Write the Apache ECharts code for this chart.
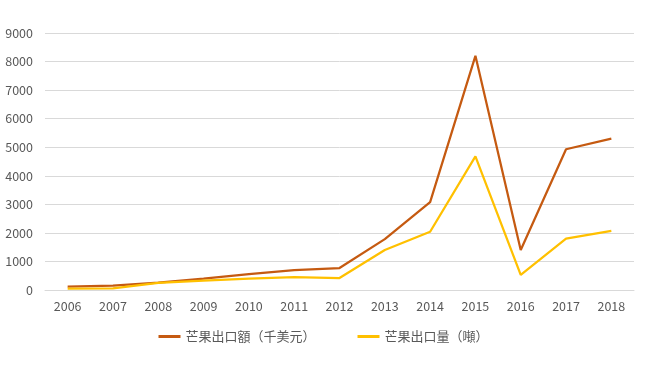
<!DOCTYPE html>
<html><head><meta charset="utf-8">
<script src="https://cdn.jsdelivr.net/npm/echarts@6/dist/echarts.min.js"></script>
<style>html,body{margin:0;padding:0;background:#fff}#c{width:647px;height:375px}</style>
</head><body><div id="c"></div>
<script>
const years = ['2006','2007','2008','2009','2010','2011','2012','2013','2014','2015','2016','2017','2018'];
const exportValue = [120, 150, 260, 400, 560, 700, 770, 1780, 3080, 8200, 1400, 4930, 5300];
const exportVolume = [50, 60, 250, 330, 400, 450, 420, 1400, 2040, 4680, 530, 1800, 2070];
const seriesNames = ['芒果出口額（千美元）', '芒果出口量（噸）'];
const font = '"Noto Sans CJK TC", "Noto Sans", sans-serif';
const chart = echarts.init(document.getElementById('c'));
chart.setOption({
  animation: false,
  textStyle: { fontFamily: font },
  grid: { left: 45, right: 13, top: 33, bottom: 85 },
  legend: {
    bottom: 27, left: 'center', itemWidth: 22, itemHeight: 3, itemGap: 42,
    icon: 'rect',
    textStyle: { color: '#595959', fontSize: 13, fontFamily: font },
    data: seriesNames
  },
  xAxis: {
    type: 'category', data: years, boundaryGap: true,
    axisLine: { lineStyle: { color: '#d9d9d9' } },
    axisTick: { show: false },
    axisLabel: { color: '#595959', fontSize: 12.5, margin: 10, fontFamily: font }
  },
  yAxis: {
    type: 'value', min: 0, max: 9000, interval: 1000,
    axisLine: { show: false }, axisTick: { show: false },
    splitLine: { lineStyle: { color: '#d9d9d9' } },
    axisLabel: { color: '#595959', fontSize: 12.5, margin: 12, fontFamily: font,
      formatter: v => String(v) }
  },
  series: [
    { name: seriesNames[0], type: 'line', data: exportValue, symbol: 'none',
      lineStyle: { color: '#C55A11', width: 2.25 }, itemStyle: { color: '#C55A11' } },
    { name: seriesNames[1], type: 'line', data: exportVolume, symbol: 'none',
      lineStyle: { color: '#FFC000', width: 2.25 }, itemStyle: { color: '#FFC000' } }
  ]
});
</script></body></html>
